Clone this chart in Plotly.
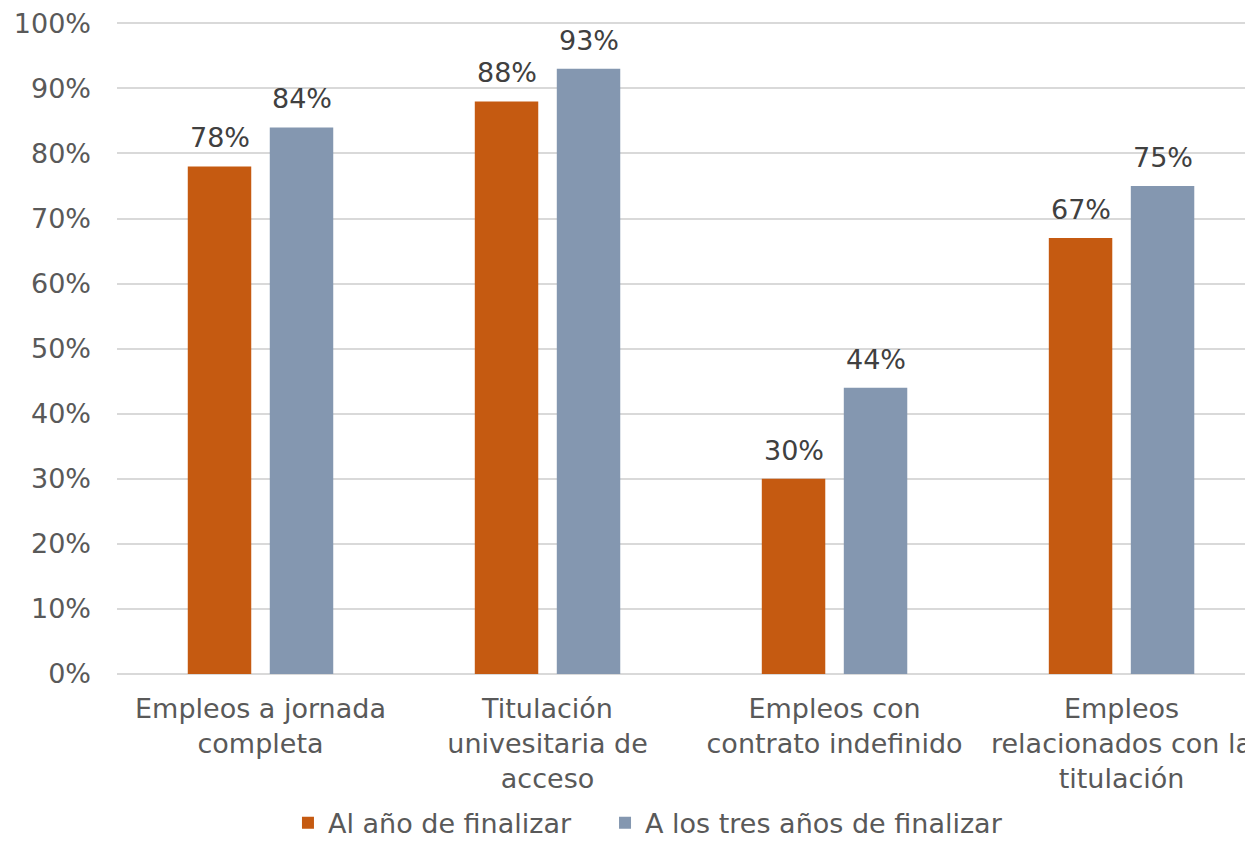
import plotly.graph_objects as go

categories = ["Empleos a jornada<br>completa", "Titulación<br>univesitaria de<br>acceso",
              "Empleos con<br>contrato indefinido", "Empleos<br>relacionados con la<br>titulación"]
series_names = ["Al año de finalizar", "A los tres años de finalizar"]
al_anio = [78, 88, 30, 67]
tres_anios = [84, 93, 44, 75]
colors = ["#C55A11", "#8497B0"]

FONT = "Verdana, DejaVu Sans, sans-serif"
FS = 27

fig = go.Figure()
for name, vals, col, lg in zip(series_names, [al_anio, tres_anios], colors, ["legend", "legend2"]):
    fig.add_trace(go.Bar(
        x=categories, y=vals, name=name, marker=dict(color=col, line=dict(width=0)),
        legend=lg, showlegend=True,
    ))

# data labels as annotations (offset to each bar of the group)
for vals, shift in zip([al_anio, tres_anios], [-41, 41]):
    for c, v in zip(categories, vals):
        fig.add_annotation(x=c, y=v, text=f"{v}%", showarrow=False, xshift=shift,
                           yanchor="bottom", yshift=11,
                           font=dict(family=FONT, size=FS, color="#404040"))

legend_common = dict(orientation="h", xanchor="left", y=-0.229, yanchor="middle",
                     font=dict(family=FONT, size=FS, color="#595959"),
                     bgcolor="rgba(0,0,0,0)")

fig.update_layout(
    width=1245, height=834,
    margin=dict(l=109, r=0, t=14, b=167.5, autoexpand=False),
    paper_bgcolor="white", plot_bgcolor="white",
    barmode="group", bargap=0.4286, bargroupgap=0.226,
    font=dict(family=FONT, size=FS, color="#595959"),
    showlegend=True,
    legend=dict(x=0.1505, **legend_common),
    legend2=dict(x=0.4296, **legend_common),
    xaxis=dict(range=[-0.5, 3.458], showgrid=False, showline=False, ticks="",
               ticklabelstandoff=16, automargin=False, ticklabeloverflow="allow",
               tickfont=dict(family=FONT, size=FS, color="#595959")),
    yaxis=dict(range=[0, 100.2], dtick=10, ticksuffix="%", showgrid=True, gridcolor="#D9D9D9",
               gridwidth=1.5, zeroline=True, zerolinecolor="#D9D9D9", zerolinewidth=1.5,
               showline=False, ticks="", ticklabelstandoff=25, automargin=False,
               ticklabeloverflow="allow",
               tickfont=dict(family=FONT, size=FS, color="#595959")),
)

fig.write_html("out.html")
